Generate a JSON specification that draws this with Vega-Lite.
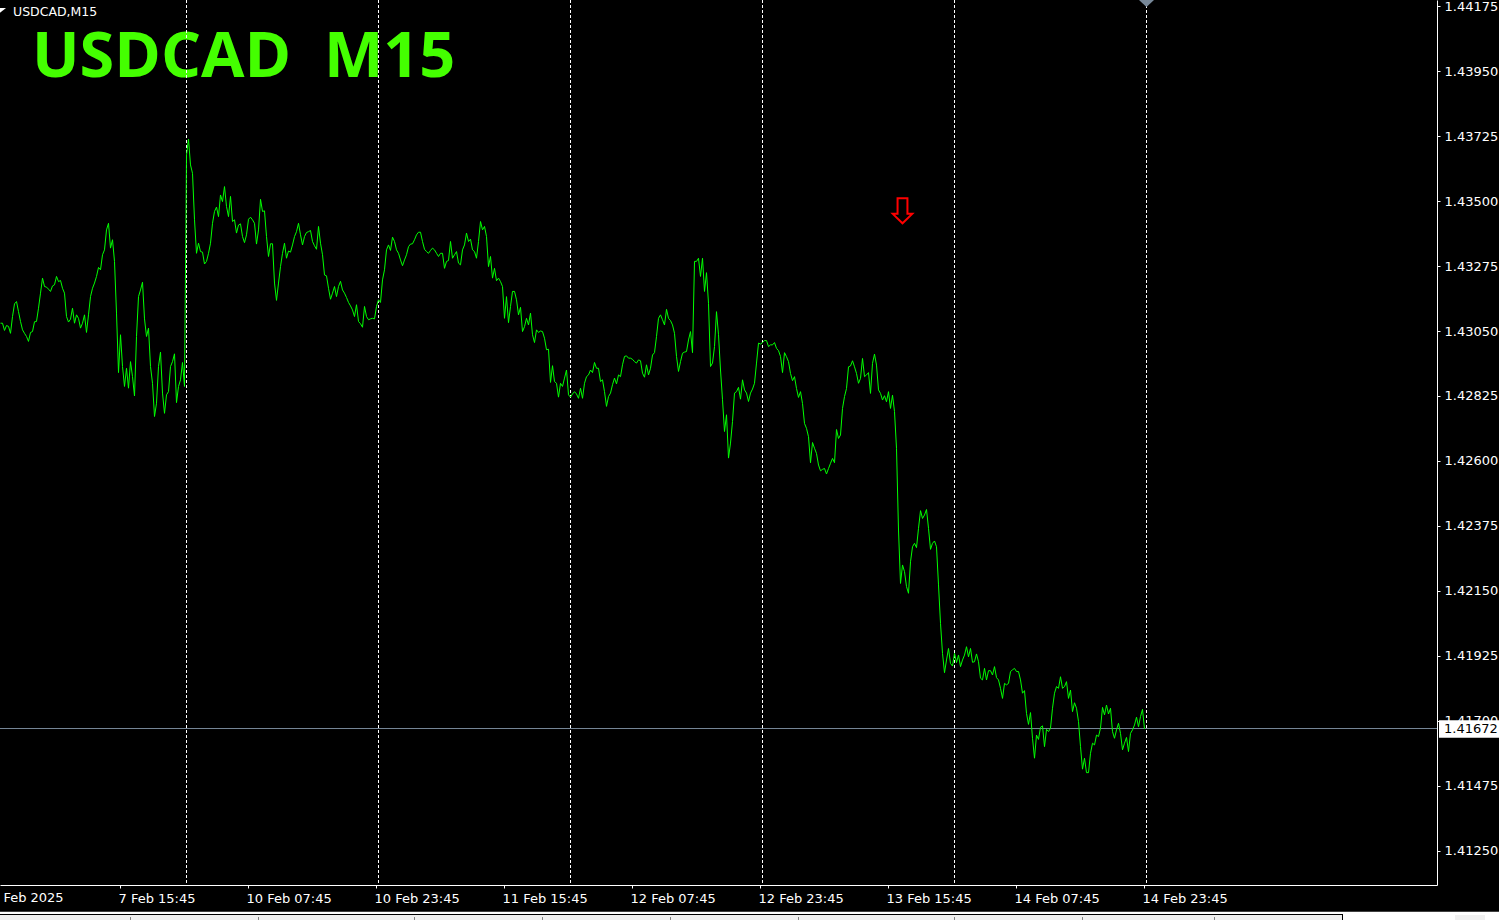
{"$schema":"https://vega.github.io/schema/vega-lite/v6.json","width":1437,"height":885,"autosize":{"type":"none"},"padding":{"left":0,"top":0,"right":62,"bottom":35},"background":"#000000","config":{"view":{"stroke":null}},
"datasets":{
"line":[{"bar":0,"price":1.43077},{"bar":1,"price":1.43077},{"bar":2,"price":1.43052},{"bar":3,"price":1.43069},{"bar":4,"price":1.43066},{"bar":5,"price":1.43042},{"bar":6,"price":1.431},{"bar":7,"price":1.43144},{"bar":8,"price":1.43152},{"bar":9,"price":1.43117},{"bar":10,"price":1.43083},{"bar":11,"price":1.43054},{"bar":12,"price":1.43042},{"bar":13,"price":1.43031},{"bar":14,"price":1.43014},{"bar":15,"price":1.43045},{"bar":16,"price":1.43048},{"bar":17,"price":1.43082},{"bar":18,"price":1.43083},{"bar":19,"price":1.43129},{"bar":20,"price":1.43181},{"bar":21,"price":1.43233},{"bar":22,"price":1.43204},{"bar":23,"price":1.43202},{"bar":24,"price":1.43195},{"bar":25,"price":1.43187},{"bar":26,"price":1.43206},{"bar":27,"price":1.4321},{"bar":28,"price":1.43239},{"bar":29,"price":1.43221},{"bar":30,"price":1.43225},{"bar":31,"price":1.43198},{"bar":32,"price":1.43181},{"bar":33,"price":1.431},{"bar":34,"price":1.43081},{"bar":35,"price":1.43091},{"bar":36,"price":1.43129},{"bar":37,"price":1.43077},{"bar":38,"price":1.43106},{"bar":39,"price":1.43094},{"bar":40,"price":1.4306},{"bar":41,"price":1.43077},{"bar":42,"price":1.43106},{"bar":43,"price":1.43045},{"bar":44,"price":1.43106},{"bar":45,"price":1.43169},{"bar":46,"price":1.43198},{"bar":47,"price":1.43216},{"bar":48,"price":1.43239},{"bar":49,"price":1.4327},{"bar":50,"price":1.43262},{"bar":51,"price":1.43314},{"bar":52,"price":1.43331},{"bar":53,"price":1.434},{"bar":54,"price":1.43423},{"bar":55,"price":1.43337},{"bar":56,"price":1.43366},{"bar":57,"price":1.43291},{"bar":58,"price":1.43112},{"bar":59,"price":1.42906},{"bar":60,"price":1.43037},{"bar":61,"price":1.42927},{"bar":62,"price":1.42858},{"bar":63,"price":1.42921},{"bar":64,"price":1.42852},{"bar":65,"price":1.42944},{"bar":66,"price":1.42892},{"bar":67,"price":1.42825},{"bar":68,"price":1.43031},{"bar":69,"price":1.43169},{"bar":70,"price":1.43192},{"bar":71,"price":1.43219},{"bar":72,"price":1.43092},{"bar":73,"price":1.43031},{"bar":74,"price":1.4306},{"bar":75,"price":1.42927},{"bar":76,"price":1.42869},{"bar":77,"price":1.42754},{"bar":78,"price":1.428},{"bar":79,"price":1.42927},{"bar":80,"price":1.42977},{"bar":81,"price":1.42835},{"bar":82,"price":1.42765},{"bar":83,"price":1.42829},{"bar":84,"price":1.4284},{"bar":85,"price":1.42927},{"bar":86,"price":1.42944},{"bar":87,"price":1.42971},{"bar":88,"price":1.42802},{"bar":89,"price":1.42858},{"bar":90,"price":1.42881},{"bar":91,"price":1.42941},{"bar":92,"price":1.42858},{"bar":93,"price":1.4366},{"bar":94,"price":1.43714},{"bar":95,"price":1.43625},{"bar":96,"price":1.43596},{"bar":97,"price":1.43435},{"bar":98,"price":1.43319},{"bar":99,"price":1.43354},{"bar":100,"price":1.43325},{"bar":101,"price":1.43323},{"bar":102,"price":1.43282},{"bar":103,"price":1.43291},{"bar":104,"price":1.43319},{"bar":105,"price":1.43354},{"bar":106,"price":1.43423},{"bar":107,"price":1.43464},{"bar":108,"price":1.43479},{"bar":109,"price":1.43446},{"bar":110,"price":1.43521},{"bar":111,"price":1.43498},{"bar":112,"price":1.4355},{"bar":113,"price":1.43481},{"bar":114,"price":1.43446},{"bar":115,"price":1.43516},{"bar":116,"price":1.43429},{"bar":117,"price":1.43435},{"bar":118,"price":1.43389},{"bar":119,"price":1.43417},{"bar":120,"price":1.43421},{"bar":121,"price":1.43377},{"bar":122,"price":1.43356},{"bar":123,"price":1.43383},{"bar":124,"price":1.43437},{"bar":125,"price":1.43444},{"bar":126,"price":1.43435},{"bar":127,"price":1.43423},{"bar":128,"price":1.43351},{"bar":129,"price":1.434},{"bar":130,"price":1.43506},{"bar":131,"price":1.43464},{"bar":132,"price":1.43466},{"bar":133,"price":1.43377},{"bar":134,"price":1.43308},{"bar":135,"price":1.43352},{"bar":136,"price":1.43352},{"bar":137,"price":1.43216},{"bar":138,"price":1.43156},{"bar":139,"price":1.43216},{"bar":140,"price":1.43273},{"bar":141,"price":1.43319},{"bar":142,"price":1.43354},{"bar":143,"price":1.43302},{"bar":144,"price":1.43327},{"bar":145,"price":1.43323},{"bar":146,"price":1.43348},{"bar":147,"price":1.43377},{"bar":148,"price":1.43394},{"bar":149,"price":1.43423},{"bar":150,"price":1.43383},{"bar":151,"price":1.43348},{"bar":152,"price":1.43377},{"bar":153,"price":1.43391},{"bar":154,"price":1.43394},{"bar":155,"price":1.43398},{"bar":156,"price":1.4336},{"bar":157,"price":1.43345},{"bar":158,"price":1.43333},{"bar":159,"price":1.43412},{"bar":160,"price":1.43354},{"bar":161,"price":1.43314},{"bar":162,"price":1.43244},{"bar":163,"price":1.43241},{"bar":164,"price":1.43198},{"bar":165,"price":1.4316},{"bar":166,"price":1.43181},{"bar":167,"price":1.43204},{"bar":168,"price":1.43169},{"bar":169,"price":1.43204},{"bar":170,"price":1.43222},{"bar":171,"price":1.43192},{"bar":172,"price":1.43181},{"bar":173,"price":1.43166},{"bar":174,"price":1.43149},{"bar":175,"price":1.43137},{"bar":176,"price":1.43123},{"bar":177,"price":1.431},{"bar":178,"price":1.43141},{"bar":179,"price":1.43083},{"bar":180,"price":1.43075},{"bar":181,"price":1.43063},{"bar":182,"price":1.43135},{"bar":183,"price":1.431},{"bar":184,"price":1.43089},{"bar":185,"price":1.43092},{"bar":186,"price":1.43094},{"bar":187,"price":1.43092},{"bar":188,"price":1.43135},{"bar":189,"price":1.43158},{"bar":190,"price":1.43149},{"bar":191,"price":1.43227},{"bar":192,"price":1.43262},{"bar":193,"price":1.43331},{"bar":194,"price":1.43348},{"bar":195,"price":1.43329},{"bar":196,"price":1.43375},{"bar":197,"price":1.4336},{"bar":198,"price":1.43331},{"bar":199,"price":1.43319},{"bar":200,"price":1.43296},{"bar":201,"price":1.43276},{"bar":202,"price":1.43296},{"bar":203,"price":1.43314},{"bar":204,"price":1.43342},{"bar":205,"price":1.43351},{"bar":206,"price":1.43352},{"bar":207,"price":1.43366},{"bar":208,"price":1.43383},{"bar":209,"price":1.43392},{"bar":210,"price":1.43392},{"bar":211,"price":1.4336},{"bar":212,"price":1.43333},{"bar":213,"price":1.43325},{"bar":214,"price":1.43319},{"bar":215,"price":1.43329},{"bar":216,"price":1.43337},{"bar":217,"price":1.43331},{"bar":218,"price":1.43319},{"bar":219,"price":1.43308},{"bar":220,"price":1.43319},{"bar":221,"price":1.43319},{"bar":222,"price":1.43267},{"bar":223,"price":1.43291},{"bar":224,"price":1.43294},{"bar":225,"price":1.4336},{"bar":226,"price":1.43302},{"bar":227,"price":1.43314},{"bar":228,"price":1.43325},{"bar":229,"price":1.43285},{"bar":230,"price":1.43279},{"bar":231,"price":1.43331},{"bar":232,"price":1.43348},{"bar":233,"price":1.43389},{"bar":234,"price":1.4336},{"bar":235,"price":1.43368},{"bar":236,"price":1.43331},{"bar":237,"price":1.43325},{"bar":238,"price":1.43302},{"bar":239,"price":1.4336},{"bar":240,"price":1.43429},{"bar":241,"price":1.434},{"bar":242,"price":1.43412},{"bar":243,"price":1.43377},{"bar":244,"price":1.43273},{"bar":245,"price":1.43308},{"bar":246,"price":1.43233},{"bar":247,"price":1.43267},{"bar":248,"price":1.43224},{"bar":249,"price":1.43233},{"bar":250,"price":1.43221},{"bar":251,"price":1.43204},{"bar":252,"price":1.43094},{"bar":253,"price":1.43169},{"bar":254,"price":1.43079},{"bar":255,"price":1.43135},{"bar":256,"price":1.43187},{"bar":257,"price":1.43187},{"bar":258,"price":1.43158},{"bar":259,"price":1.43106},{"bar":260,"price":1.43132},{"bar":261,"price":1.43048},{"bar":262,"price":1.43065},{"bar":263,"price":1.43094},{"bar":264,"price":1.43071},{"bar":265,"price":1.43112},{"bar":266,"price":1.43037},{"bar":267,"price":1.4301},{"bar":268,"price":1.43054},{"bar":269,"price":1.43045},{"bar":270,"price":1.4305},{"bar":271,"price":1.43048},{"bar":272,"price":1.43025},{"bar":273,"price":1.42985},{"bar":274,"price":1.42987},{"bar":275,"price":1.42872},{"bar":276,"price":1.4293},{"bar":277,"price":1.42875},{"bar":278,"price":1.42869},{"bar":279,"price":1.42821},{"bar":280,"price":1.42869},{"bar":281,"price":1.42858},{"bar":282,"price":1.42887},{"bar":283,"price":1.42915},{"bar":284,"price":1.42829},{"bar":285,"price":1.42821},{"bar":286,"price":1.42832},{"bar":287,"price":1.4284},{"bar":288,"price":1.42832},{"bar":289,"price":1.42817},{"bar":290,"price":1.42852},{"bar":291,"price":1.42817},{"bar":292,"price":1.42869},{"bar":293,"price":1.42892},{"bar":294,"price":1.42898},{"bar":295,"price":1.42915},{"bar":296,"price":1.42906},{"bar":297,"price":1.42941},{"bar":298,"price":1.42921},{"bar":299,"price":1.42921},{"bar":300,"price":1.42875},{"bar":301,"price":1.42881},{"bar":302,"price":1.4284},{"bar":303,"price":1.42789},{"bar":304,"price":1.42823},{"bar":305,"price":1.42835},{"bar":306,"price":1.42864},{"bar":307,"price":1.42887},{"bar":308,"price":1.42867},{"bar":309,"price":1.42898},{"bar":310,"price":1.42892},{"bar":311,"price":1.42933},{"bar":312,"price":1.42962},{"bar":313,"price":1.42964},{"bar":314,"price":1.42956},{"bar":315,"price":1.42956},{"bar":316,"price":1.42952},{"bar":317,"price":1.42944},{"bar":318,"price":1.42939},{"bar":319,"price":1.4295},{"bar":320,"price":1.42947},{"bar":321,"price":1.42904},{"bar":322,"price":1.4289},{"bar":323,"price":1.42933},{"bar":324,"price":1.42898},{"bar":325,"price":1.42921},{"bar":326,"price":1.42967},{"bar":327,"price":1.42975},{"bar":328,"price":1.43031},{"bar":329,"price":1.43094},{"bar":330,"price":1.43106},{"bar":331,"price":1.43089},{"bar":332,"price":1.43071},{"bar":333,"price":1.43125},{"bar":334,"price":1.43094},{"bar":335,"price":1.43086},{"bar":336,"price":1.43071},{"bar":337,"price":1.43042},{"bar":338,"price":1.42962},{"bar":339,"price":1.4291},{"bar":340,"price":1.42944},{"bar":341,"price":1.42973},{"bar":342,"price":1.42977},{"bar":343,"price":1.42979},{"bar":344,"price":1.43019},{"bar":345,"price":1.43048},{"bar":346,"price":1.42975},{"bar":347,"price":1.43291},{"bar":348,"price":1.43291},{"bar":349,"price":1.43302},{"bar":350,"price":1.43239},{"bar":351,"price":1.43302},{"bar":352,"price":1.43187},{"bar":353,"price":1.43252},{"bar":354,"price":1.43146},{"bar":355,"price":1.42927},{"bar":356,"price":1.42939},{"bar":357,"price":1.42996},{"bar":358,"price":1.43117},{"bar":359,"price":1.43037},{"bar":360,"price":1.42915},{"bar":361,"price":1.42812},{"bar":362,"price":1.42702},{"bar":363,"price":1.4276},{"bar":364,"price":1.4261},{"bar":365,"price":1.42662},{"bar":366,"price":1.42737},{"bar":367,"price":1.42835},{"bar":368,"price":1.4284},{"bar":369,"price":1.42855},{"bar":370,"price":1.42814},{"bar":371,"price":1.42881},{"bar":372,"price":1.42846},{"bar":373,"price":1.42835},{"bar":374,"price":1.42806},{"bar":375,"price":1.42835},{"bar":376,"price":1.42849},{"bar":377,"price":1.42869},{"bar":378,"price":1.42939},{"bar":379,"price":1.43008},{"bar":380,"price":1.43005},{"bar":381,"price":1.4301},{"bar":382,"price":1.43017},{"bar":383,"price":1.43017},{"bar":384,"price":1.42996},{"bar":385,"price":1.43002},{"bar":386,"price":1.43002},{"bar":387,"price":1.4301},{"bar":388,"price":1.4299},{"bar":389,"price":1.42982},{"bar":390,"price":1.42962},{"bar":391,"price":1.42906},{"bar":392,"price":1.42975},{"bar":393,"price":1.42961},{"bar":394,"price":1.42944},{"bar":395,"price":1.42903},{"bar":396,"price":1.42878},{"bar":397,"price":1.42892},{"bar":398,"price":1.42851},{"bar":399,"price":1.4282},{"bar":400,"price":1.4284},{"bar":401,"price":1.42799},{"bar":402,"price":1.4273},{"bar":403,"price":1.42713},{"bar":404,"price":1.42684},{"bar":405,"price":1.42594},{"bar":406,"price":1.42664},{"bar":407,"price":1.42644},{"bar":408,"price":1.42626},{"bar":409,"price":1.42586},{"bar":410,"price":1.42566},{"bar":411,"price":1.42571},{"bar":412,"price":1.42574},{"bar":413,"price":1.42555},{"bar":414,"price":1.42574},{"bar":415,"price":1.42592},{"bar":416,"price":1.42609},{"bar":417,"price":1.42594},{"bar":418,"price":1.42709},{"bar":419,"price":1.42678},{"bar":420,"price":1.4269},{"bar":421,"price":1.42782},{"bar":422,"price":1.42823},{"bar":423,"price":1.42851},{"bar":424,"price":1.42926},{"bar":425,"price":1.42929},{"bar":426,"price":1.42947},{"bar":427,"price":1.42926},{"bar":428,"price":1.42903},{"bar":429,"price":1.42869},{"bar":430,"price":1.42886},{"bar":431,"price":1.42955},{"bar":432,"price":1.42892},{"bar":433,"price":1.42898},{"bar":434,"price":1.42906},{"bar":435,"price":1.42834},{"bar":436,"price":1.42938},{"bar":437,"price":1.4297},{"bar":438,"price":1.42932},{"bar":439,"price":1.42846},{"bar":440,"price":1.42834},{"bar":441,"price":1.42811},{"bar":442,"price":1.42826},{"bar":443,"price":1.42805},{"bar":444,"price":1.4284},{"bar":445,"price":1.42782},{"bar":446,"price":1.42828},{"bar":447,"price":1.42771},{"bar":448,"price":1.42644},{"bar":449,"price":1.42361},{"bar":450,"price":1.42176},{"bar":451,"price":1.4224},{"bar":452,"price":1.42217},{"bar":453,"price":1.42165},{"bar":454,"price":1.42142},{"bar":455,"price":1.42251},{"bar":456,"price":1.42303},{"bar":457,"price":1.42315},{"bar":458,"price":1.423},{"bar":459,"price":1.42367},{"bar":460,"price":1.42428},{"bar":461,"price":1.42401},{"bar":462,"price":1.42413},{"bar":463,"price":1.42432},{"bar":464,"price":1.42367},{"bar":465,"price":1.42294},{"bar":466,"price":1.42315},{"bar":467,"price":1.42323},{"bar":468,"price":1.42303},{"bar":469,"price":1.42171},{"bar":470,"price":1.42038},{"bar":471,"price":1.41934},{"bar":472,"price":1.41867},{"bar":473,"price":1.41911},{"bar":474,"price":1.41951},{"bar":475,"price":1.41899},{"bar":476,"price":1.4189},{"bar":477,"price":1.41934},{"bar":478,"price":1.41902},{"bar":479,"price":1.41928},{"bar":480,"price":1.41888},{"bar":481,"price":1.41911},{"bar":482,"price":1.41928},{"bar":483,"price":1.41957},{"bar":484,"price":1.41922},{"bar":485,"price":1.41951},{"bar":486,"price":1.41903},{"bar":487,"price":1.41905},{"bar":488,"price":1.41932},{"bar":489,"price":1.41905},{"bar":490,"price":1.41848},{"bar":491,"price":1.41842},{"bar":492,"price":1.41882},{"bar":493,"price":1.41842},{"bar":494,"price":1.41874},{"bar":495,"price":1.41874},{"bar":496,"price":1.41859},{"bar":497,"price":1.41888},{"bar":498,"price":1.4185},{"bar":499,"price":1.41842},{"bar":500,"price":1.41813},{"bar":501,"price":1.41778},{"bar":502,"price":1.4183},{"bar":503,"price":1.41825},{"bar":504,"price":1.4183},{"bar":505,"price":1.41871},{"bar":506,"price":1.41877},{"bar":507,"price":1.41882},{"bar":508,"price":1.41871},{"bar":509,"price":1.41871},{"bar":510,"price":1.41842},{"bar":511,"price":1.41796},{"bar":512,"price":1.41805},{"bar":513,"price":1.41726},{"bar":514,"price":1.41688},{"bar":515,"price":1.41729},{"bar":516,"price":1.4164},{"bar":517,"price":1.41571},{"bar":518,"price":1.41651},{"bar":519,"price":1.41636},{"bar":520,"price":1.41678},{"bar":521,"price":1.41683},{"bar":522,"price":1.41611},{"bar":523,"price":1.41671},{"bar":524,"price":1.41663},{"bar":525,"price":1.41675},{"bar":526,"price":1.41744},{"bar":527,"price":1.41796},{"bar":528,"price":1.41819},{"bar":529,"price":1.41813},{"bar":530,"price":1.41853},{"bar":531,"price":1.41813},{"bar":532,"price":1.41819},{"bar":533,"price":1.41836},{"bar":534,"price":1.41778},{"bar":535,"price":1.41807},{"bar":536,"price":1.41732},{"bar":537,"price":1.41763},{"bar":538,"price":1.41744},{"bar":539,"price":1.41698},{"bar":540,"price":1.41611},{"bar":541,"price":1.41533},{"bar":542,"price":1.41571},{"bar":543,"price":1.41521},{"bar":544,"price":1.41521},{"bar":545,"price":1.41588},{"bar":546,"price":1.41623},{"bar":547,"price":1.41617},{"bar":548,"price":1.41651},{"bar":549,"price":1.41646},{"bar":550,"price":1.41675},{"bar":551,"price":1.41747},{"bar":552,"price":1.41721},{"bar":553,"price":1.41755},{"bar":554,"price":1.41724},{"bar":555,"price":1.41744},{"bar":556,"price":1.41663},{"bar":557,"price":1.4164},{"bar":558,"price":1.41669},{"bar":559,"price":1.41692},{"bar":560,"price":1.41657},{"bar":561,"price":1.416},{"bar":562,"price":1.41623},{"bar":563,"price":1.41643},{"bar":564,"price":1.41594},{"bar":565,"price":1.41657},{"bar":566,"price":1.41669},{"bar":567,"price":1.41686},{"bar":568,"price":1.41713},{"bar":569,"price":1.4168},{"bar":570,"price":1.41715},{"bar":571,"price":1.4174},{"bar":572,"price":1.41672}],
"separators":[{"bar":93,"price":1.44196,"price2":1.41139},{"bar":189,"price":1.44196,"price2":1.41139},{"bar":285,"price":1.44196,"price2":1.41139},{"bar":381,"price":1.44196,"price2":1.41139},{"bar":477,"price":1.44196,"price2":1.41139},{"bar":573,"price":1.44196,"price2":1.41139}],
"tabs":[{"bar":65,"price":1.41021,"price2":1.41011},{"bar":129,"price":1.41021,"price2":1.41011},{"bar":207,"price":1.41021,"price2":1.41011},{"bar":271,"price":1.41021,"price2":1.41011},{"bar":335,"price":1.41021,"price2":1.41011},{"bar":399,"price":1.41021,"price2":1.41011},{"bar":477,"price":1.41021,"price2":1.41011},{"bar":541,"price":1.41021,"price2":1.41011},{"bar":607,"price":1.41021,"price2":1.41011}]
},
"encoding":{
"x":{"field":"bar","type":"quantitative","title":null,"scale":{"domain":[0,718.5],"nice":false,"zero":false},"axis":{"values":[60,124,188,252,316,380,444,508,572],"labelExpr":"{'60':'7 Feb 15:45','124':'10 Feb 07:45','188':'10 Feb 23:45','252':'11 Feb 15:45','316':'12 Feb 07:45','380':'12 Feb 23:45','444':'13 Feb 15:45','508':'14 Feb 07:45','572':'14 Feb 23:45'}[datum.value]","grid":false,"domainColor":"#ffffff","tickColor":"#ffffff","tickSize":3,"labelColor":"#ffffff","labelFont":"DejaVu Sans","labelFontSize":13,"labelAlign":"left","labelBaseline":"top","labelPadding":4,"labelOffset":-2,"labelOverlap":false,"labelBound":false,"labelFlush":false}},
"y":{"field":"price","type":"quantitative","title":null,"scale":{"domain":[1.41132,1.44196],"nice":false,"zero":false},"axis":{"orient":"right","values":[1.44175,1.4395,1.43725,1.435,1.43275,1.4305,1.42825,1.426,1.42375,1.4215,1.41925,1.417,1.41475,1.4125],"format":".5f","grid":false,"domainColor":"#ffffff","tickColor":"#ffffff","tickSize":3,"labelColor":"#ffffff","labelFont":"DejaVu Sans","labelFontSize":13,"labelAlign":"left","labelBaseline":"middle","labelPadding":4,"labelOverlap":false,"labelBound":false,"labelFlush":false}}
},
"layer":[
{"data":{"values":[{"bar":0,"bar2":749.5,"price":1.41039,"price2":1.41011}]},"mark":{"type":"rect","color":"#ffffff"},"encoding":{"x2":{"field":"bar2"},"y2":{"field":"price2"}}},
{"data":{"values":[{"bar":0,"bar2":671.5,"price":1.41032,"price2":1.41011}]},"mark":{"type":"rect","color":"#000000"},"encoding":{"x2":{"field":"bar2"},"y2":{"field":"price2"}}},
{"data":{"values":[{"bar":0,"bar2":671,"price":1.41028,"price2":1.41011},{"bar":727.5,"bar2":742.5,"price":1.41028,"price2":1.41011}]},"mark":{"type":"rect","color":"#f0f0f0"},"encoding":{"x2":{"field":"bar2"},"y2":{"field":"price2"}}},
{"data":{"name":"tabs"},"mark":{"type":"rule","color":"#808080","strokeWidth":1,"xOffset":0.5},"encoding":{"y2":{"field":"price2"}}},
{"data":{"values":[{"bar":-4,"price":1.41087,"label":"7 Feb 2025"}]},"mark":{"type":"text","align":"left","baseline":"middle","font":"DejaVu Sans","fontSize":13,"color":"#ffffff","dx":-1},"encoding":{"text":{"field":"label"}}},
{"data":{"values":[{"bar":16,"price":1.43929,"label":"USDCAD\u00a0\u00a0M15"}]},"mark":{"type":"text","align":"left","baseline":"alphabetic","font":"Open Sans","fontWeight":"bold","fontSize":63,"color":"#44ff00"},"encoding":{"text":{"field":"label"}}},
{"data":{"name":"separators"},"mark":{"type":"rule","color":"#ffffff","strokeWidth":1,"strokeDash":[3,2],"xOffset":0.5},"encoding":{"y2":{"field":"price2"}}},
{"data":{"values":[{"bar":0,"bar2":718.5,"price":1.41672}]},"mark":{"type":"rule","color":"#778899","strokeWidth":1,"yOffset":-0.5},"encoding":{"x2":{"field":"bar2"}}},
{"data":{"name":"line"},"mark":{"type":"line","color":"#00ff00","strokeWidth":1,"xOffset":0.5,"interpolate":"linear"},"encoding":{}},
{"data":{"values":[{"bar":451.25,"price":1.43466}]},"mark":{"type":"point","shape":"M-0.38,-0.96L0.38,-0.96L0.38,0.23L0.75,0.23L0,0.96L-0.75,0.23L-0.38,0.23Z","size":676,"filled":false,"color":"#ff0000","strokeWidth":2,"opacity":1},"encoding":{}},
{"data":{"values":[{"bar":573.25,"price":1.44196}]},"mark":{"type":"point","shape":"M-1,0L1,0L0,0.93Z","size":225,"filled":true,"color":"#778899","opacity":1},"encoding":{}},
{"data":{"values":[{"bar":719.5,"bar2":749.5,"price":1.41702,"price2":1.41642}]},"mark":{"type":"rect","color":"#ffffff"},"encoding":{"x2":{"field":"bar2"},"y2":{"field":"price2"}}},
{"data":{"values":[{"bar":722,"price":1.41672,"label":"1.41672"}]},"mark":{"type":"text","align":"left","baseline":"middle","font":"DejaVu Sans","fontSize":13,"color":"#000000"},"encoding":{"text":{"field":"label"}}},
{"data":{"values":[{"bar":6.5,"price":1.44141,"label":"USDCAD,M15"}]},"mark":{"type":"text","align":"left","baseline":"alphabetic","font":"DejaVu Sans","fontSize":12.5,"color":"#ffffff"},"encoding":{"text":{"field":"label"}}},
{"data":{"values":[{"bar":1.5,"price":1.4416}]},"mark":{"type":"point","shape":"M-1,-0.8L1,-0.8L-1,0.8Z","size":36,"filled":true,"color":"#ffffff","opacity":1},"encoding":{}}
]}
